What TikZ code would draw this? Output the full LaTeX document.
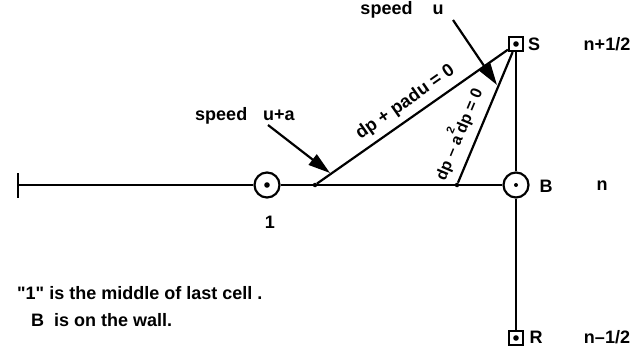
\documentclass[tikz,border=0pt]{standalone}
\usepackage{fontspec}
\setmainfont{Liberation Sans}[Ligatures=TeXOff]
\usetikzlibrary{arrows.meta}

\tikzset{
  lbl/.style={font=\bfseries\fontsize{18}{20}\selectfont, inner sep=1pt},
  ring/.style={circle, draw, line width=2.2pt, minimum size=25pt, inner sep=0pt},
  box/.style={rectangle, draw, line width=2.2pt, minimum size=14pt, inner sep=0pt},
  dot/.style={circle, fill, minimum size=4.5pt, inner sep=0pt},
  ln/.style={line width=2.2pt},
  arr/.style={line width=2.2pt, -{Triangle[length=22pt,width=13pt]}},
}

\begin{document}
\begin{tikzpicture}[x=1pt,y=-1pt]
    \useasboundingbox (0,0) rectangle (639,350);
    % grid points on the last cell and at the wall
    \coordinate (wall) at (18,185);
    \node[ring] (c1) at (267,185) {};
    \node[dot] (pA) at (315,185) {};
    \node[dot] (pB) at (457,185) {};
    \node[ring] (B) at (516,185) {};
    \node[box] (S) at (516,44) {};
    \node[box] (R) at (516,338) {};
    \fill (c1.center) circle (2.8pt);
    \fill (B.center) circle (2pt);
    \fill (S.center) circle (2.8pt);
    \fill (R.center) circle (2.8pt);
    \draw[ln] (18,173) -- (18,198);
    \draw[ln] (wall) -- (c1) -- (pA) -- (pB) -- (B);
    \draw[ln] (S) -- (B) -- (R);
    % characteristics
    \draw[ln] (pA) -- (S) node[lbl, sloped, above=5pt, pos=0.51] (cp) {dp + padu = 0};
    \draw[ln] (pB) -- (S) node[lbl, font=\bfseries\fontsize{16}{18}\selectfont, sloped, above=7pt, pos=0.32] (cm)
        {dp – a\rlap{\raisebox{1.3ex}{\fontsize{11}{11}\selectfont 2}} dp = 0};
    % speeds
    \coordinate (uaStart) at (268,125);
    \coordinate (uaEnd) at (330,173);
    \coordinate (uStart) at (453,20);
    \coordinate (uEnd) at (497,85);
    \draw[arr] (uaStart) -- (uaEnd);
    \draw[arr] (uStart) -- (uEnd);
    \node[lbl] (spa) at (245,116) {speed\hspace{16pt}u+a};
    \node[lbl] (spu) at (402,10) {speed\hspace{20pt}u};
    % labels
    \node[lbl] (l1) at (270,222) {1};
    \node[lbl] (lS) at (534,44) {S};
    \node[lbl] (lB) at (546,186) {B};
    \node[lbl] (lR) at (536,337) {R};
    \node[lbl] (nS) at (607,44) {n+1/2};
    \node[lbl] (nB) at (602,186) {n};
    \node[lbl] (nR) at (607,337) {n–1/2};
    \node[lbl, anchor=west] (note1) at (16,293) {"1" is the middle of last cell .};
    \node[lbl, anchor=west] (note2) at (30,320) {B\ \ is on the wall.};
\end{tikzpicture}
\end{document}
